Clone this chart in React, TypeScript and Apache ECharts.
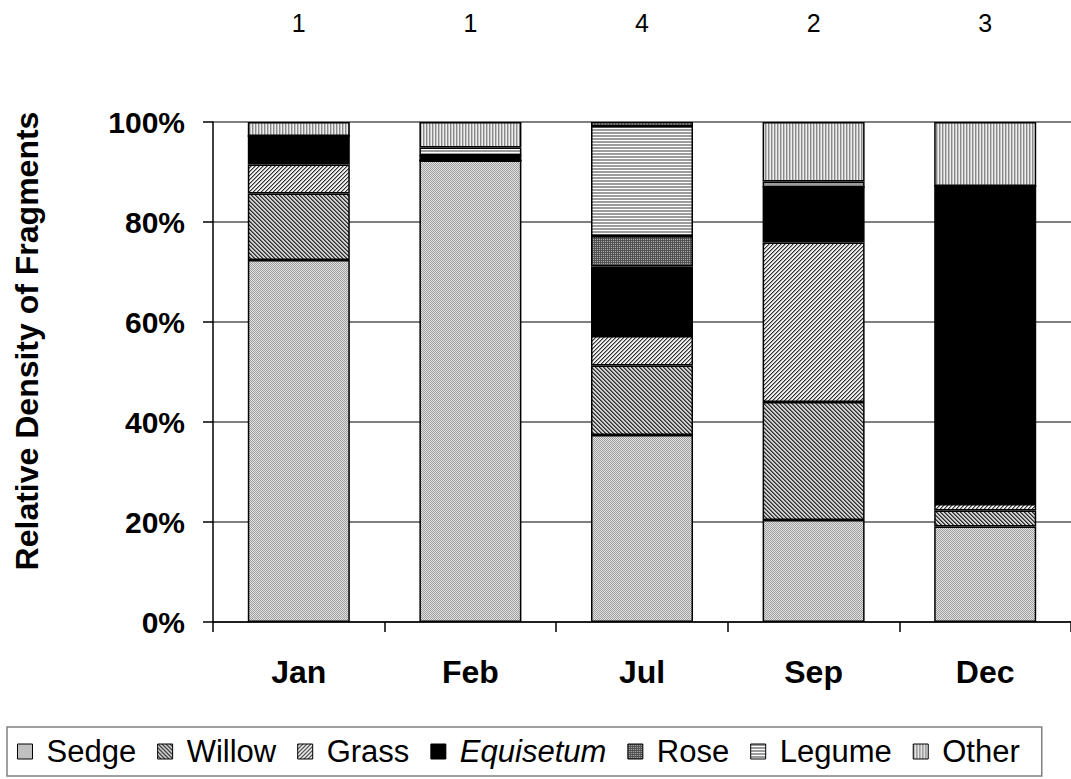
import React, { useEffect, useRef } from "react";
import * as echarts from "echarts";

const months = ["Jan", "Feb", "Jul", "Sep", "Dec"];
const sampleSizes = ["1", "1", "4", "2", "3"];
const yTicks = [0, 20, 40, 60, 80, 100];

const sedge = [72.4, 92.3, 37.4, 20.4, 19.1];
const willow = [13.3, 0, 13.9, 23.6, 3.2];
const grass = [5.8, 0, 5.9, 31.9, 1.3];
const equisetum = [5.7, 1.0, 13.9, 11.1, 63.6];
const rose = [0, 0, 6.1, 0, 0];
const legume = [0, 1.6, 22.0, 1.1, 0];
const other = [2.8, 5.1, 0.8, 11.9, 12.8];

const seriesNames = ["Sedge", "Willow", "Grass", "Equisetum", "Rose", "Legume", "Other"];
const seriesData = [sedge, willow, grass, equisetum, rose, legume, other];

function tile(w: number, h: number, fn: (x: number, y: number) => string) {
  const c = document.createElement("canvas");
  c.width = w;
  c.height = h;
  const ctx = c.getContext("2d")!;
  for (let x = 0; x < w; x++) {
    for (let y = 0; y < h; y++) {
      ctx.fillStyle = fn(x, y);
      ctx.fillRect(x, y, 1, 1);
    }
  }
  return c;
}

function makeFills(): any[] {
  const pat = (c: HTMLCanvasElement) => ({ image: c, repeat: "repeat" });
  return [
    pat(tile(2, 2, (x, y) => ((x + y) % 2 === 0 ? "#a0a0a0" : "#e0e0e0"))),
    pat(tile(4, 4, (x, y) => {
      const k = (x - y + 8) % 4;
      return k === 0 ? "#2a2a2a" : k === 1 ? "#707070" : "#d0d0d0";
    })),
    pat(tile(4, 4, (x, y) => {
      const k = (x + y) % 4;
      return k === 0 ? "#333333" : k === 1 ? "#9a9a9a" : "#ececec";
    })),
    "#000000",
    pat(tile(2, 2, (x, y) => (x === 0 || y === 0 ? "#505050" : "#b0b0b0"))),
    pat(tile(3, 3, (x, y) => (y === 2 ? "#ffffff" : "#9c9c9c"))),
    pat(tile(3, 3, (x) => (x === 0 ? "#8a8a8a" : x === 1 ? "#c4c4c4" : "#eeeeee"))),
  ];
}

export default function App() {
  const ref = useRef<HTMLDivElement>(null);
  useEffect(() => {
    if (!ref.current) return;
    const chart = echarts.init(ref.current, null, { renderer: "svg" });
    const fills = makeFills();
    const font = "Arial, 'Liberation Sans', sans-serif";
    chart.setOption({
      animation: false,
      textStyle: { fontFamily: font },
      grid: { left: 213, top: 122, bottom: 157, right: -4.5, containLabel: false },
      legend: {
        data: seriesNames,
        left: 7,
        top: 727,
        orient: "horizontal",
        icon: "rect",
        itemWidth: 15,
        itemHeight: 15,
        itemGap: 21,
        padding: [9, 22, 9, 10],
        borderColor: "#808080",
        borderWidth: 1.5,
        formatter: (name: string) => (name === "Equisetum" ? "{i|Equisetum}" : name),
        textStyle: {
          fontSize: 31,
          color: "#000",
          fontFamily: font,
          padding: [0, 0, 0, 9],
          rich: { i: { fontStyle: "italic", fontSize: 31, fontFamily: font, color: "#000" } },
        },
        itemStyle: { borderColor: "#000", borderWidth: 1 },
      },
      graphic: [
        {
          type: "text",
          x: 27,
          y: 341,
          rotation: Math.PI / 2,
          style: {
            text: "Relative Density of Fragments",
            fontSize: 32,
            fontWeight: "bold",
            fontFamily: font,
            fill: "#000",
            align: "center",
            verticalAlign: "middle",
          },
        },
      ],
      xAxis: [
        {
          type: "category",
          data: months,
          position: "bottom",
          axisLine: { lineStyle: { color: "#000", width: 1.5 } },
          axisTick: { show: true, length: 10, lineStyle: { color: "#000", width: 1.5 } },
          axisLabel: { fontSize: 32, fontWeight: "bold", color: "#000", margin: 34 },
        },
        {
          type: "category",
          data: sampleSizes,
          position: "top",
          axisLine: { show: false },
          axisTick: { show: false },
          axisLabel: { fontSize: 25, color: "#000", margin: 87 },
        },
      ],
      yAxis: {
        type: "value",
        min: yTicks[0],
        max: yTicks[yTicks.length - 1],
        interval: 20,
        axisLine: { show: true, lineStyle: { color: "#000", width: 1.5 } },
        axisTick: { show: true, length: 10, lineStyle: { color: "#000", width: 1.5 } },
        axisLabel: { fontSize: 30, fontWeight: "bold", color: "#000", margin: 28, formatter: "{value}%" },
        splitLine: { show: true, lineStyle: { color: "#555", width: 1.5 } },
      },
      series: seriesNames.map((name, i) => ({
        name,
        type: "bar",
        stack: "total",
        xAxisIndex: 0,
        barWidth: 102,
        data: seriesData[i],
        itemStyle: { color: fills[i], borderColor: "#000", borderWidth: 1.5 },
      })),
    });
    return () => chart.dispose();
  }, []);
  return (
    <div
      ref={ref}
      style={{ position: "absolute", left: 0, top: 0, width: 1071, height: 779 }}
    />
  );
}
